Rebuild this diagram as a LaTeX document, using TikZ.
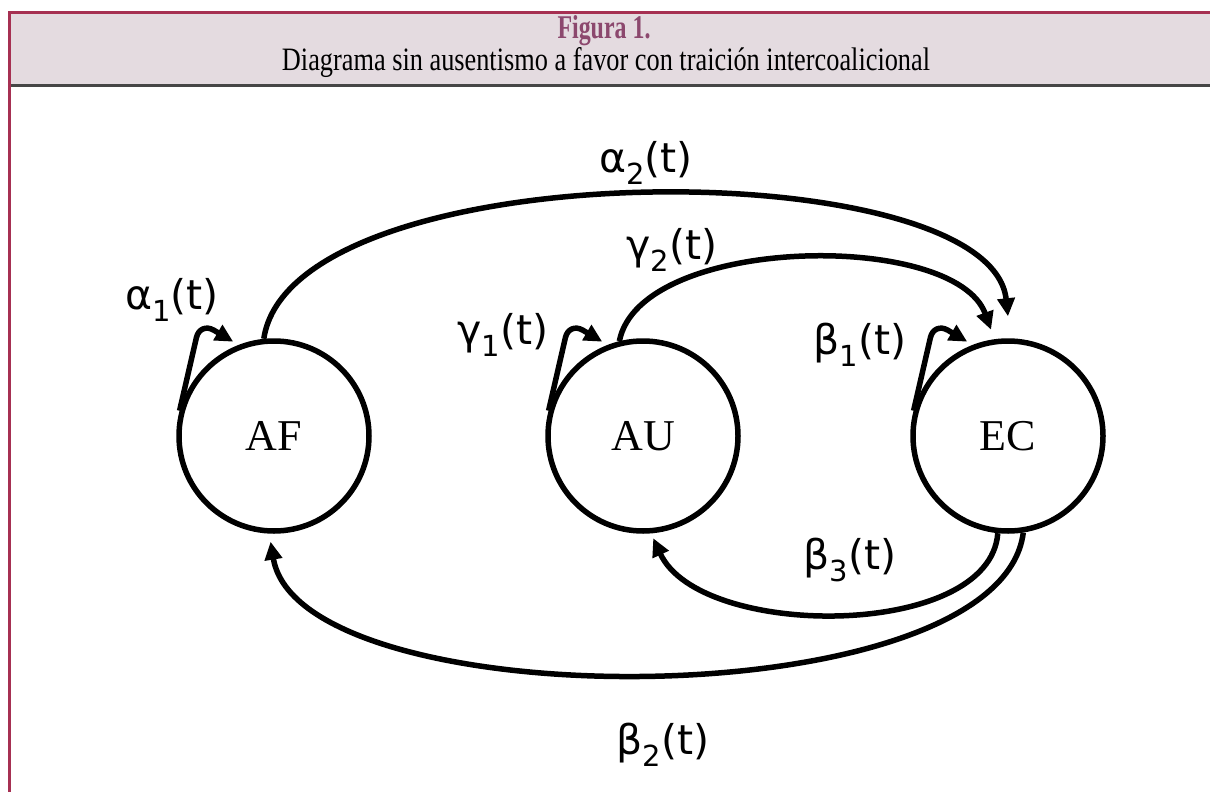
\documentclass[tikz,border=0pt]{standalone}
\usepackage{fontspec}
\setmainfont{Liberation Serif}
\newfontfamily\labfont{DejaVu Sans}
\usetikzlibrary{arrows.meta}
\definecolor{framecol}{RGB}{166,48,82}
\definecolor{headfill}{RGB}{228,219,224}
\definecolor{titlecol}{RGB}{140,72,110}
\definecolor{headline}{RGB}{70,70,70}
\newcommand\glab[2]{#1\raisebox{-0.28em}{\fontsize{29}{32}\selectfont #2}(t)}
\begin{document}
\begin{tikzpicture}[x=1pt,y=-1pt,
  state/.style={circle,draw,line width=5.5pt,minimum size=190pt,inner sep=0pt,font=\fontsize{44}{50}\selectfont},
  conn/.style={line width=5.5pt,-{Triangle[length=18pt,width=17pt]}},
  loopc/.style={conn,rounded corners=16pt},
  lab/.style={font=\labfont\fontsize{41}{46}\selectfont,inner sep=0pt},
  headtext/.style={inner sep=0pt,font=\fontsize{24}{28}\selectfont}]
\useasboundingbox (0,0) rectangle (1210,792);
% frame and header
\fill[headfill] (10,14) rectangle (1210,84);
\draw[headline,line width=3pt] (10,85) -- (1210,85);
\draw[framecol,line width=3pt] (9,792) -- (9,13) -- (1210,13);
\node[headtext,text=titlecol] (title) at (604,31) {\resizebox{93pt}{23pt}{\bfseries Figura 1.}};
\node[headtext] (subtitle) at (606,63) {\resizebox{648pt}{23pt}{Diagrama sin ausentismo a favor con traición intercoalicional}};
% states
\node[state] (AF) at (274,436) {AF};
\node[state] (AU) at (643,436) {AU};
\node[state] (EC) at (1008,436) {EC};
% transitions
\draw[conn] (AF.96) .. controls (292,150) and (990,150) .. ([yshift=22pt]EC.90);
\draw[conn] (AU.104) .. controls (640,235) and (955,230) .. ([yshift=10pt]EC.100);
\draw[conn] (EC.-96) .. controls (990,640) and (700,640) .. ([yshift=-5pt]AU.-84);
\draw[conn] (EC.-81) .. controls (1000,720) and (300,720) .. ([yshift=-8pt]AF.-92);
% self loops
\coordinate (cAF) at ([shift={(-74pt,114pt)}]AF.center);
\coordinate (cAU) at ([shift={(-74pt,114pt)}]AU.center);
\coordinate (cEC) at ([shift={(-74pt,114pt)}]EC.center);
\draw[loopc] (AF.165) -- (cAF) -- ([shift={(-1pt,5pt)}]AF.114);
\draw[loopc] (AU.165) -- (cAU) -- ([shift={(-1pt,5pt)}]AU.114);
\draw[loopc] (EC.165) -- (cEC) -- ([shift={(-1pt,5pt)}]EC.114);
% labels
\node[lab] (la2) at (646,163) {\glab{α}{2}};
\node[lab] (la1) at (172,300) {\glab{α}{1}};
\node[lab] (lg1) at (503,335) {\glab{γ}{1}};
\node[lab] (lg2) at (672,250) {\glab{γ}{2}};
\node[lab] (lb1) at (860,345) {\glab{β}{1}};
\node[lab] (lb3) at (850,560) {\glab{β}{3}};
\node[lab] (lb2) at (663,745) {\glab{β}{2}};
\end{tikzpicture}
\end{document}
